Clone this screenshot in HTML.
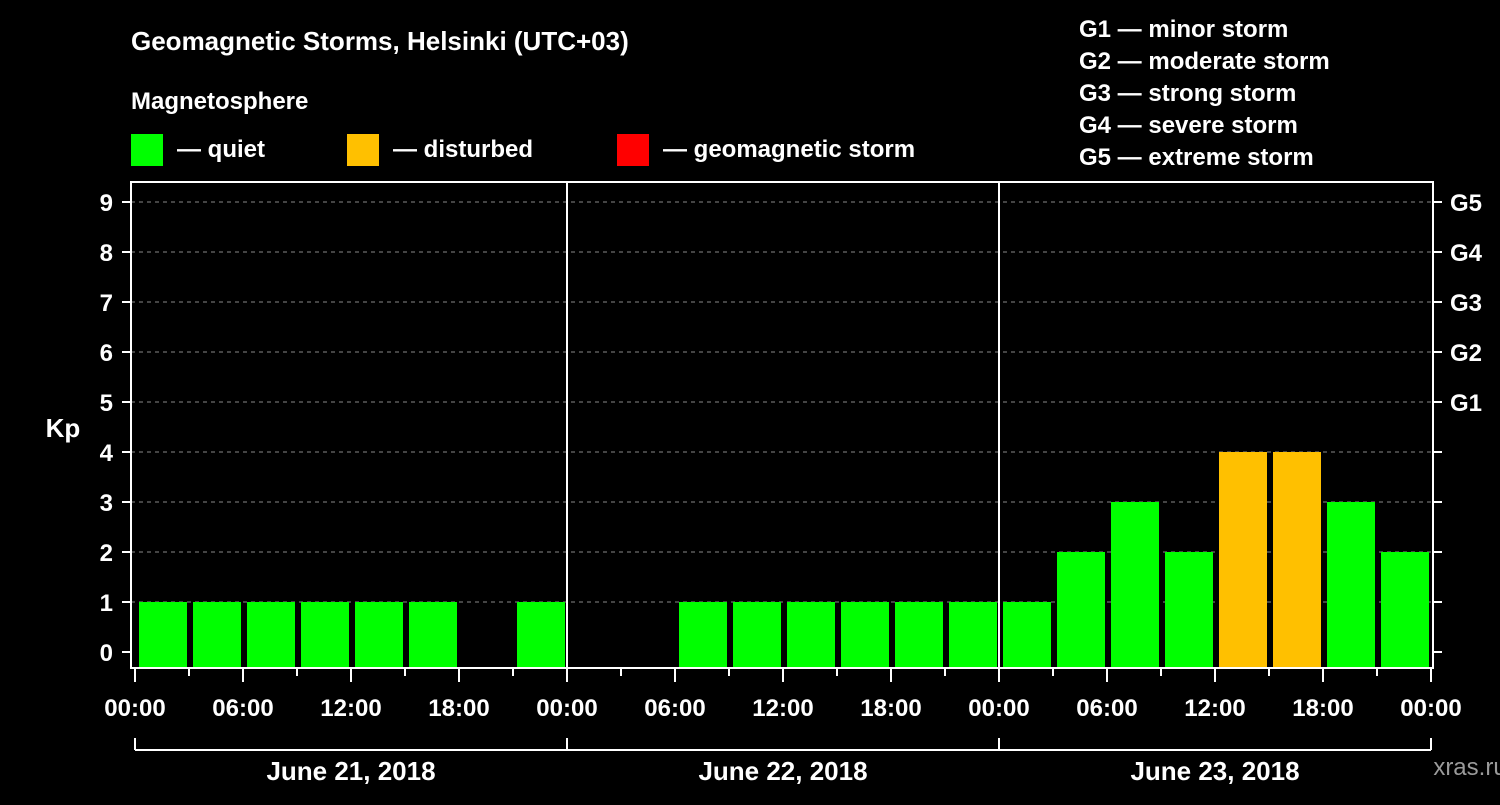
<!DOCTYPE html>
<html><head><meta charset="utf-8"><style>
body{margin:0;background:#000;width:1500px;height:800px;overflow:hidden}
svg text{font-family:"Liberation Sans",Arial,sans-serif;font-weight:bold;fill:#fff}
</style></head><body>
<svg id="c" width="1500" height="800">
<text x="131" y="50" font-size="26">Geomagnetic Storms, Helsinki (UTC+03)</text>
<text x="131" y="109" font-size="24">Magnetosphere</text>
<g><rect x="131" y="134" width="32" height="32" fill="#00ff00"/><text x="177" y="157" font-size="24">— quiet</text></g>
<g><rect x="347" y="134" width="32" height="32" fill="#ffc000"/><text x="393" y="157" font-size="24">— disturbed</text></g>
<g><rect x="617" y="134" width="32" height="32" fill="#ff0000"/><text x="663" y="157" font-size="24">— geomagnetic storm</text></g>
<g font-size="24">
<text x="1079" y="37">G1 — minor storm</text><text x="1079" y="69">G2 — moderate storm</text><text x="1079" y="101">G3 — strong storm</text><text x="1079" y="133">G4 — severe storm</text><text x="1079" y="165">G5 — extreme storm</text></g>
<text x="63" y="437" font-size="26" text-anchor="middle">Kp</text>
<text x="1470" y="775" font-size="24" text-anchor="middle" fill="#888" style="fill:#9a9a9a;font-weight:normal">xras.ru</text>
<g id="plot"></g>
</svg>
<script>
const days=["June 21, 2018","June 22, 2018","June 23, 2018"];
const kp=[1,1,1,1,1,1,0,1, 0,0,1,1,1,1,1,1, 1,2,3,2,4,4,3,2];
const yTicks=[0,1,2,3,4,5,6,7,8,9];
const gLabels=["G1","G2","G3","G4","G5"];
const xLabels=["00:00","06:00","12:00","18:00"];
const NS="http://www.w3.org/2000/svg",g=document.getElementById("plot");
const X0=135,PERH=18,Y0=652,PERK=50,L=131,R=1433,T=182,B=668;
const xs=h=>X0+h*PERH, ys=k=>Y0-k*PERK;
function mk(t,a,txt){const e=document.createElementNS(NS,t);for(const k in a)e.setAttribute(k,a[k]);if(txt!=null)e.textContent=txt;g.appendChild(e);return e;}
yTicks.forEach(k=>{
 if(k>0){const e=mk("line",{x1:L,x2:R,y1:ys(k),y2:ys(k),stroke:"#888","stroke-dasharray":"4,4","stroke-width":1});
 }
 mk("line",{x1:L-9,x2:L,y1:ys(k),y2:ys(k),stroke:"#fff","stroke-width":2});
 mk("line",{x1:R,x2:R+9,y1:ys(k),y2:ys(k),stroke:"#fff","stroke-width":2});
 const t=mk("text",{x:113,y:ys(k)+9,"font-size":24,"text-anchor":"end"},k);
 
});
gLabels.forEach((s,i)=>{const t=mk("text",{x:1450,y:ys(5+i)+9,"font-size":24},s);
 });
kp.forEach((v,i)=>{if(v<=0)return;
 const r=mk("rect",{x:xs(i*3)+4,y:ys(v),width:48,height:B-ys(v),fill:v>=5?"#ff0000":v>=4?"#ffc000":"#00ff00"});
 });
mk("rect",{x:L,y:T,width:R-L,height:B-T,fill:"none",stroke:"#fff","stroke-width":2});
for(let d=1;d<days.length;d++)mk("line",{x1:xs(d*24),x2:xs(d*24),y1:T,y2:B,stroke:"#fff","stroke-width":2});
for(let h=0;h<=days.length*24;h+=3){
 mk("line",{x1:xs(h),x2:xs(h),y1:B,y2:B+(h%6==0?14:8),stroke:"#fff","stroke-width":2});
 if(h%6==0){const t=mk("text",{x:xs(h),y:716,"font-size":24,"text-anchor":"middle"},xLabels[(h/6)%4]);
 }
}
mk("line",{x1:xs(0),x2:xs(days.length*24),y1:750,y2:750,stroke:"#fff","stroke-width":2});
days.forEach((d,i)=>{
 mk("line",{x1:xs(i*24),x2:xs(i*24),y1:738,y2:750,stroke:"#fff","stroke-width":2});
 const t=mk("text",{x:xs(i*24+12),y:780,"font-size":26,"text-anchor":"middle"},d);
 
});
mk("line",{x1:xs(days.length*24),x2:xs(days.length*24),y1:738,y2:750,stroke:"#fff","stroke-width":2});
</script>
</body></html>
